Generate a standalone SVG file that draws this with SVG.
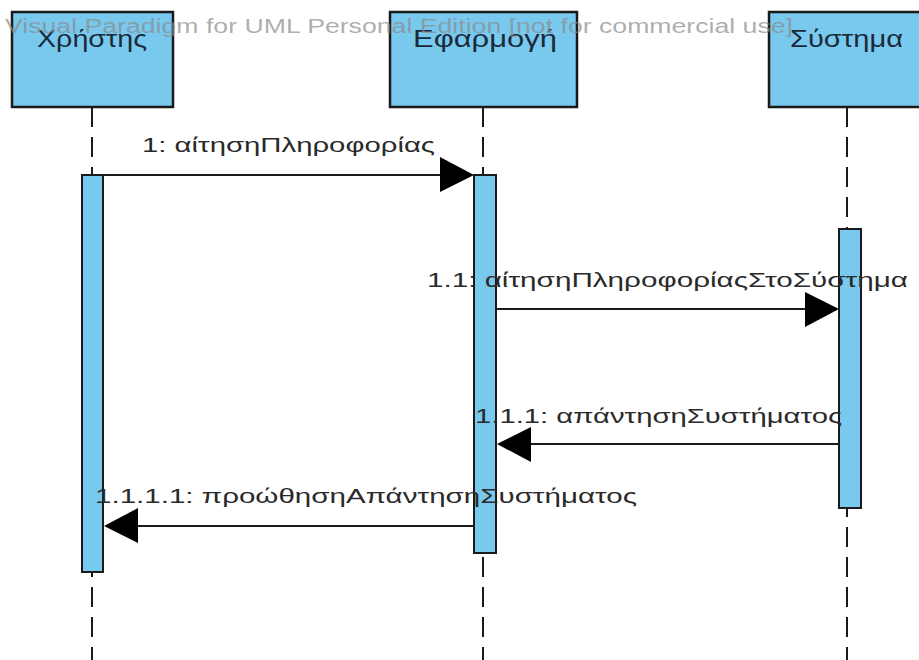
<svg xmlns="http://www.w3.org/2000/svg" width="919" height="660" viewBox="0 0 919 660">
<defs>
<style>
.head{fill:#79C9EE;stroke:#1a1a1a;stroke-width:2.5}
.bar{fill:#79C9EE;stroke:#1a1a1a;stroke-width:2}
.life{stroke:#1a1a1a;stroke-width:2;stroke-dasharray:20 10;fill:none}
.msg{stroke:#1a1a1a;stroke-width:2;fill:none}
.ah{fill:#000}
.lbl{font-family:"Liberation Sans",Arial,sans-serif;font-size:23px;fill:#1a2a3a}
.mlbl{font-family:"Liberation Sans",Arial,sans-serif;font-size:20px;fill:#2a2a2a}
.wm{font-family:"Liberation Sans",Arial,sans-serif;font-size:20px;fill:#8a8a8a;fill-opacity:0.7}
</style>
</defs>
<rect width="919" height="660" fill="#ffffff"/>
<g id="lifelines">
<line class="life" x1="92" y1="107" x2="92" y2="660"/>
<line class="life" x1="483" y1="107" x2="483" y2="660"/>
<line class="life" x1="847" y1="107" x2="847" y2="660"/>
</g>
<g id="node-xristis">
<rect class="head" x="12" y="12" width="161" height="95"/>
<text class="lbl" x="37" y="47" textLength="110" lengthAdjust="spacingAndGlyphs">Χρήστης</text>
<rect class="bar" x="82" y="175" width="21" height="397"/>
</g>
<g id="node-efarmogi">
<rect class="head" x="390" y="12" width="187" height="95"/>
<text class="lbl" x="413" y="47" textLength="144" lengthAdjust="spacingAndGlyphs">Εφαρμογή</text>
<rect class="bar" x="474" y="175" width="22" height="378"/>
</g>
<g id="node-systima">
<rect class="head" x="769" y="12" width="160" height="95"/>
<text class="lbl" x="790" y="47" textLength="113" lengthAdjust="spacingAndGlyphs">Σύστημα</text>
<rect class="bar" x="839" y="229" width="22" height="279"/>
</g>
<g id="connectors">
<line class="msg" x1="103" y1="175" x2="445" y2="175"/>
<polygon class="ah" points="474,175 440,157 440,192"/>
<text class="mlbl" x="142" y="152" textLength="293" lengthAdjust="spacingAndGlyphs">1: αίτησηΠληροφορίας</text>
<line class="msg" x1="496" y1="309" x2="810" y2="309"/>
<polygon class="ah" points="839,309 805,292 805,327"/>
<text class="mlbl" x="427" y="287" textLength="481" lengthAdjust="spacingAndGlyphs">1.1: αίτησηΠληροφορίαςΣτοΣύστημα</text>
<line class="msg" x1="839" y1="444" x2="525" y2="444"/>
<polygon class="ah" points="497,444 531,427 531,462"/>
<text class="mlbl" x="475" y="423" textLength="367" lengthAdjust="spacingAndGlyphs">1.1.1: απάντησηΣυστήματος</text>
<line class="msg" x1="474" y1="526" x2="133" y2="526"/>
<polygon class="ah" points="104,526 138,508 138,543"/>
<text class="mlbl" x="95" y="503" textLength="542" lengthAdjust="spacingAndGlyphs">1.1.1.1: προώθησηΑπάντησηΣυστήματος</text>
</g>
<g id="watermark">
<text class="wm" x="5" y="33" textLength="788" lengthAdjust="spacingAndGlyphs">Visual Paradigm for UML Personal Edition [not for commercial use]</text>
</g>
</svg>
